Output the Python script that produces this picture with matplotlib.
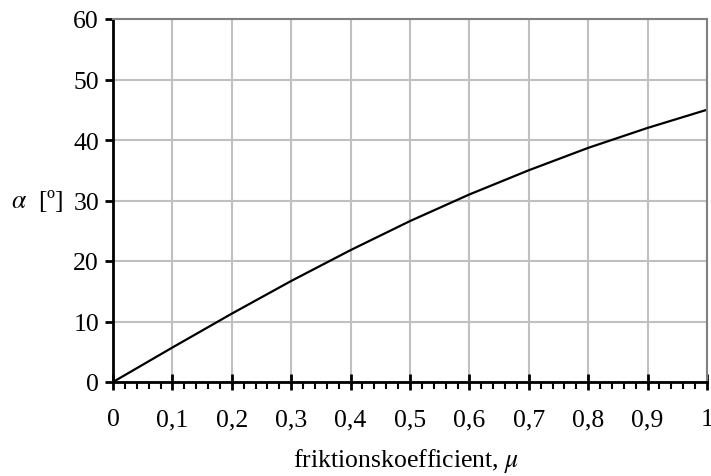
import matplotlib.pyplot as plt
from matplotlib.ticker import MultipleLocator, FuncFormatter

# friction coefficient and angle
mu = [0.0, 0.1, 0.2, 0.3, 0.4, 0.5, 0.6, 0.7, 0.8, 0.9, 1.0]
alpha = [0.0, 5.7, 11.3, 16.7, 21.8, 26.6, 31.0, 35.0, 38.7, 42.0, 45.0]

x_ticks = [0, 0.1, 0.2, 0.3, 0.4, 0.5, 0.6, 0.7, 0.8, 0.9, 1.0]
y_ticks = [0, 10, 20, 30, 40, 50, 60]

plt.rcParams['font.family'] = ['Liberation Serif', 'DejaVu Serif']
plt.rcParams['mathtext.fontset'] = 'stix'

W, H = 711, 477
fig = plt.figure(figsize=(W / 100, H / 100), dpi=100)
ax = fig.add_axes([113 / W, 1 - 383 / H, (707 - 113) / W, (383 - 20) / H])

ax.plot(mu, alpha, color='black', lw=1.6)

ax.set_xlim(0, 1)
ax.set_ylim(0, 60)
ax.set_xticks(x_ticks)
ax.set_yticks(y_ticks)
ax.xaxis.set_minor_locator(MultipleLocator(0.02))
ax.xaxis.set_major_formatter(FuncFormatter(
    lambda v, p: '0' if v == 0 else ('1' if v == 1 else ('%.1f' % v).replace('.', ','))))

ax.grid(True, which='major', color='#c0c0c0', lw=1.5)
ax.set_axisbelow(True)

for s in ['top', 'right']:
    ax.spines[s].set_color('#808080')
    ax.spines[s].set_linewidth(1.5)
for s in ['left', 'bottom']:
    ax.spines[s].set_color('black')
    ax.spines[s].set_linewidth(2)

fs = 18.5
ax.tick_params(axis='y', which='major', direction='out', length=6, width=2, labelsize=fs, pad=4)
ax.tick_params(axis='x', which='major', direction='inout', length=12, width=2, labelsize=fs, pad=13)
ax.tick_params(axis='x', which='minor', direction='out', length=5, width=1.5)

fig.text(406 / W, 1 - 461 / H, 'friktionskoefficient, $\\mu$', fontsize=fs,
         ha='center', va='center')
fig.text(11 / W, 1 - 201 / H, '$\\alpha$  [º]', fontsize=fs, ha='left', va='center')

fig.savefig('out.png', dpi=100)
